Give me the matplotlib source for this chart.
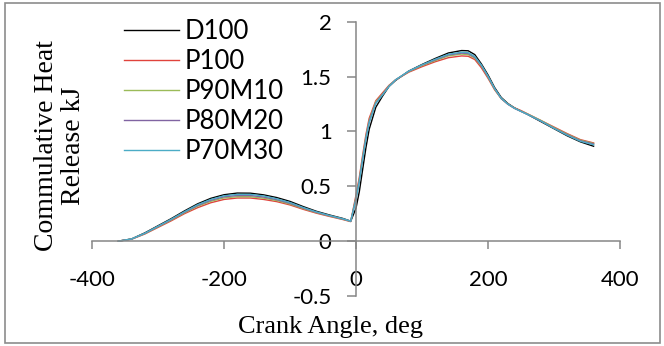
import matplotlib.pyplot as plt
from matplotlib.patches import Rectangle
from matplotlib.ticker import FormatStrFormatter

# crank angle (deg) and cumulative heat release (kJ) per fuel blend
crank = [-360, -340, -320, -300, -280, -260, -240, -220, -200, -180,
         -160, -140, -120, -100, -80, -60, -40, -20, -8, 0,
         5, 10, 15, 20, 30, 40, 50, 60, 80, 100,
         120, 140, 160, 170, 180, 190, 200, 210, 220, 230,
         240, 250, 260, 280, 300, 320, 340, 360]

d100 = [0, 0.02, 0.075, 0.14, 0.205, 0.275, 0.34, 0.39, 0.423, 0.438,
        0.437, 0.422, 0.397, 0.362, 0.315, 0.272, 0.238, 0.207, 0.182, 0.30,
        0.45, 0.65, 0.85, 1.02, 1.22, 1.32, 1.41, 1.465, 1.55, 1.61,
        1.665, 1.715, 1.737, 1.735, 1.70, 1.615, 1.515, 1.40, 1.31, 1.255,
        1.215, 1.185, 1.155, 1.09, 1.025, 0.96, 0.905, 0.865]
p100 = [0, 0.018, 0.065, 0.125, 0.185, 0.25, 0.305, 0.35, 0.38, 0.393,
        0.393, 0.38, 0.36, 0.33, 0.29, 0.255, 0.225, 0.197, 0.178, 0.42,
        0.58, 0.78, 0.97, 1.12, 1.28, 1.35, 1.42, 1.47, 1.54, 1.59,
        1.635, 1.672, 1.688, 1.685, 1.655, 1.58, 1.485, 1.38, 1.30, 1.25,
        1.215, 1.19, 1.16, 1.10, 1.04, 0.98, 0.925, 0.895]
p90m10 = [0, 0.019, 0.068, 0.13, 0.192, 0.258, 0.318, 0.363, 0.394, 0.405,
          0.405, 0.392, 0.37, 0.338, 0.297, 0.26, 0.229, 0.2, 0.18, 0.40,
          0.56, 0.76, 0.95, 1.10, 1.27, 1.34, 1.415, 1.47, 1.545, 1.60,
          1.645, 1.688, 1.705, 1.70, 1.668, 1.595, 1.495, 1.385, 1.30, 1.25,
          1.212, 1.185, 1.158, 1.10, 1.035, 0.975, 0.92, 0.89]
p80m20 = [0, 0.019, 0.07, 0.133, 0.196, 0.263, 0.325, 0.372, 0.404, 0.416,
          0.416, 0.402, 0.378, 0.345, 0.302, 0.263, 0.231, 0.202, 0.181, 0.39,
          0.55, 0.75, 0.94, 1.09, 1.26, 1.335, 1.412, 1.47, 1.548, 1.605,
          1.652, 1.697, 1.714, 1.71, 1.675, 1.60, 1.50, 1.39, 1.30, 1.248,
          1.21, 1.182, 1.155, 1.095, 1.03, 0.97, 0.915, 0.885]
p70m30 = [0, 0.02, 0.072, 0.136, 0.2, 0.268, 0.332, 0.38, 0.413, 0.426,
          0.426, 0.412, 0.386, 0.352, 0.307, 0.267, 0.234, 0.204, 0.182, 0.38,
          0.54, 0.74, 0.93, 1.08, 1.255, 1.33, 1.41, 1.47, 1.55, 1.607,
          1.658, 1.703, 1.722, 1.718, 1.683, 1.605, 1.505, 1.392, 1.303, 1.25,
          1.212, 1.183, 1.155, 1.095, 1.028, 0.965, 0.91, 0.878]

series = [("D100", d100, "#000000"),
          ("P100", p100, "#e0433c"),
          ("P90M10", p90m10, "#9bbb59"),
          ("P80M20", p80m20, "#8064a2"),
          ("P70M30", p70m30, "#4bacc6")]

plt.rcParams['font.family'] = 'Lato'
plt.rcParams['axes.unicode_minus'] = False

fig = plt.figure(figsize=(6.64, 3.46), dpi=100)
ax = fig.add_axes([92 / 664, 50 / 346, 528 / 664, 274.3 / 346])

for name, vals, col in series:
    ax.plot(crank, vals, color=col, lw=1.0, label=name)

ax.set_xlim(-400, 400)
ax.set_ylim(-0.5, 2)
ax.set_xticks([-400, -200, 0, 200, 400])
ax.set_yticks([-0.5, 0, 0.5, 1, 1.5, 2])
ax.yaxis.set_major_formatter(FormatStrFormatter('%g'))

axis_grey = '#868686'
for s in ['top', 'right']:
    ax.spines[s].set_visible(False)
ax.spines['left'].set_position(('data', 0))
ax.spines['bottom'].set_position(('data', 0))
for s in ['left', 'bottom']:
    ax.spines[s].set_color(axis_grey)
    ax.spines[s].set_linewidth(1.1)
ax.tick_params(axis='x', direction='out', length=5.8, width=1.1,
               color=axis_grey, labelsize=16, pad=15)
ax.tick_params(axis='y', direction='out', length=6.5, width=1.1,
               color=axis_grey, labelsize=16, pad=11)
ax.patch.set_visible(False)

leg = ax.legend(loc='upper left', bbox_to_anchor=(124 / 664, 1 - 19 / 346),
                bbox_transform=fig.transFigure, frameon=False, fontsize=18.5,
                handlelength=2.15, handletextpad=0.22, labelspacing=0.19,
                borderpad=0, borderaxespad=0)

fig.text(330 / 664, 1 - 333 / 346, "Crank Angle, deg", family='Liberation Serif',
         fontsize=19, ha='center', va='baseline')
fig.text(60 / 664, 1 - 146 / 346, "Commulative Heat\nRelease kJ",
         family='Liberation Serif', fontsize=20, rotation=90,
         ha='center', va='center', multialignment='center', linespacing=1.15)

fig.patches.append(Rectangle((4.5 / 664, 1 - 342.5 / 346), 655.5 / 664, 340 / 346,
                             transform=fig.transFigure, fill=False,
                             edgecolor='#8c8c8c', lw=1.2))

fig.savefig('out.png', dpi=100)
